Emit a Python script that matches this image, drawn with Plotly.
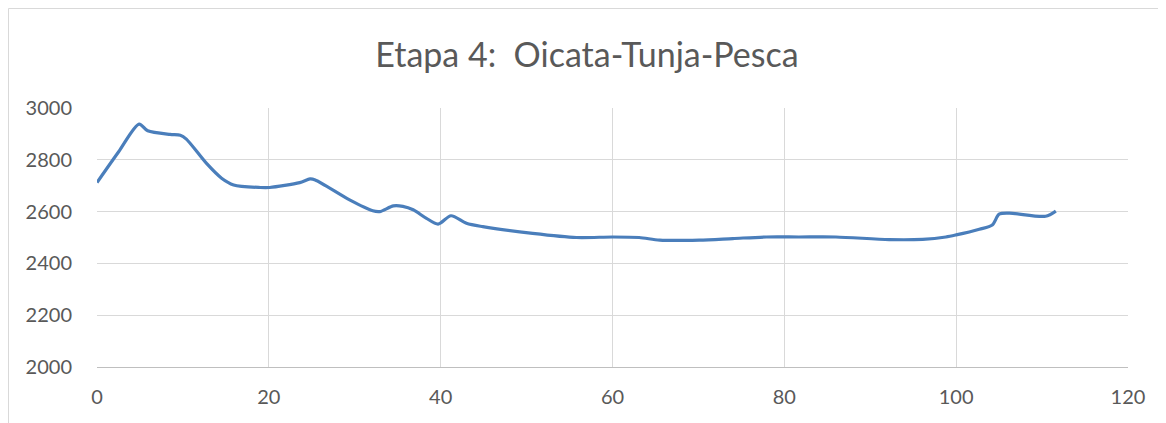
import plotly.graph_objects as go

distance_km = [0, 2.5, 4.9, 5.9, 8.5, 9.7, 10.4, 12.75, 14.5, 15.9, 19.0, 20.1, 23.6, 24.8, 25.4,
               29.4, 32.1, 32.9, 34.5, 35.6, 36.8, 38.3, 39.7, 41.2, 43.0, 44.9, 50.7, 55.8,
               60.0, 63.1, 65.5, 70.1, 74.0, 77.9, 81.7, 86.0, 92.2, 96.1, 98.8, 100.0, 102.7,
               104.2, 105.0, 106.2, 110.4, 111.6]
elevation_m = [2712, 2830, 2938, 2912, 2898, 2895, 2880, 2786, 2729, 2703, 2693, 2693, 2712, 2726, 2722,
               2645, 2603, 2600, 2622, 2620, 2607, 2575, 2552, 2584, 2555, 2542, 2516, 2500,
               2502, 2500, 2490, 2490, 2496, 2502, 2502, 2502, 2492, 2493, 2502, 2510, 2532,
               2548, 2590, 2594, 2582, 2602]

x_ticks = [0, 20, 40, 60, 80, 100, 120]
y_ticks = [2000, 2200, 2400, 2600, 2800, 3000]
title_text = "Etapa 4:  Oicata-Tunja-Pesca"

# page body has a default 8px margin, so the figure is 8px smaller than the window
W, H = 1158, 415
L, R, T, B = 89, 38, 100, 56
pw, ph = W - L - R, H - T - B

fig = go.Figure()
fig.add_trace(go.Scatter(
    x=distance_km, y=elevation_m, mode="lines",
    line=dict(color="#4a7ebb", width=3.2, shape="spline", smoothing=0.8),
    hoverinfo="x+y", showlegend=False,
))

font_fam = "Lato, 'Open Sans', sans-serif"
fig.update_layout(
    width=W, height=H,
    margin=dict(l=L, r=R, t=T, b=B),
    paper_bgcolor="white", plot_bgcolor="white",
    title=dict(text=title_text, x=0.5, xanchor="center", y=1 - 47 / H, yanchor="middle",
               font=dict(family=font_fam, size=34, color="#595959")),
    font=dict(family=font_fam, size=20, color="#595959"),
    xaxis=dict(range=[0, 120], tickvals=x_ticks, showgrid=True, gridcolor="#d9d9d9", gridwidth=1,
               zeroline=False, showline=True, linecolor="#bfbfbf", linewidth=1,
               ticks="", ticklabelstandoff=12, tickfont=dict(size=20, color="#595959")),
    yaxis=dict(range=[2000, 3000], tickvals=y_ticks, showgrid=True, gridcolor="#d9d9d9", gridwidth=1,
               zeroline=False, showline=False, ticks="", ticklabelstandoff=24,
               tickfont=dict(size=20, color="#595959")),
    shapes=[dict(type="rect", xref="paper", yref="paper",
                 x0=(0.5 - L) / pw, x1=(W + 20 - L) / pw,
                 y0=(H - B - (H + 20)) / ph, y1=(H - B - 0.5) / ph,
                 line=dict(color="#d9d9d9", width=1), fillcolor="rgba(0,0,0,0)", layer="below")],
)

fig.write_html("out.html")
